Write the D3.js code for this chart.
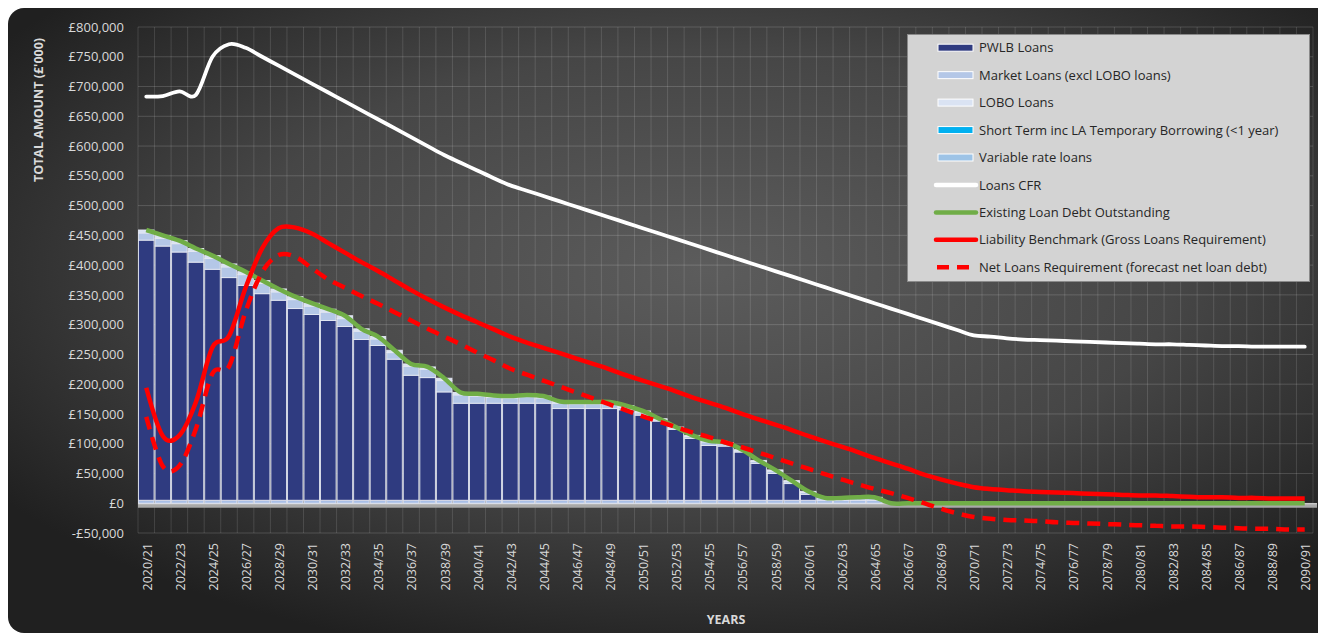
<!DOCTYPE html>
<html>
<head>
<meta charset="utf-8">
<script src="https://cdn.jsdelivr.net/npm/d3@7"></script>
<style>
  body { margin: 0; background: #ffffff; }
  svg { display: block; font-family: "Open Sans", "DejaVu Sans", sans-serif; }
</style>
</head>
<body>
<svg id="chart" width="1318" height="635"></svg>
<script>
// ---- data (£'000) ----
const categories = [
  "2020/21","2021/22","2022/23","2023/24","2024/25","2025/26","2026/27","2027/28","2028/29","2029/30",
  "2030/31","2031/32","2032/33","2033/34","2034/35","2035/36","2036/37","2037/38","2038/39","2039/40",
  "2040/41","2041/42","2042/43","2043/44","2044/45","2045/46","2046/47","2047/48","2048/49","2049/50",
  "2050/51","2051/52","2052/53","2053/54","2054/55","2055/56","2056/57","2057/58","2058/59","2059/60",
  "2060/61","2061/62","2062/63","2063/64","2064/65","2065/66","2066/67","2067/68","2068/69","2069/70",
  "2070/71","2071/72","2072/73","2073/74","2074/75","2075/76","2076/77","2077/78","2078/79","2079/80",
  "2080/81","2081/82","2082/83","2083/84","2084/85","2085/86","2086/87","2087/88","2088/89","2089/90",
  "2090/91"
];

const yTicks = [-50000, 0, 50000, 100000, 150000, 200000, 250000, 300000, 350000, 400000,
  450000, 500000, 550000, 600000, 650000, 700000, 750000, 800000];

const pwlbLoans = [
  437000,427000,417000,400000,388000,374000,361000,347000,336000,322000,
  312000,302000,292000,270000,260000,237000,210000,206000,182000,163000,
  163000,163000,163000,163000,163000,154000,154000,154000,154000,152000,
  143000,133000,119000,104000,92000,91000,81000,62000,45000,28000,
  10000,0,0,0,0,0,0,0,0,0,
  0,0,0,0,0,0,0,0,0,0,
  0,0,0,0,0,0,0,0,0,0,
  0
];

const marketLoans = [
  12000,13000,14000,18000,18000,18000,18000,17000,14000,15000,
  14000,14000,13000,14000,11000,11000,15000,14000,19000,14000,
  12000,10000,9000,11000,9000,9000,8000,8000,8000,4000,
  4000,2000,2000,3000,6000,4000,2000,3000,4000,3000,
  3000,4000,4000,5000,5000,0,0,0,0,0,
  0,0,0,0,0,0,0,0,0,0,
  0,0,0,0,0,0,0,0,0,0,
  0
];

const loboLoans = [
  5000,5000,5000,5000,5000,5000,5000,5000,5000,5000,
  5000,5000,5000,4000,4000,4000,4000,4000,4000,4000,
  4000,3000,3000,3000,3000,3000,3000,3000,3000,3000,
  3000,2000,2000,2000,2000,2000,2000,2000,2000,2000,
  2000,0,0,0,0,0,0,0,0,0,
  0,0,0,0,0,0,0,0,0,0,
  0,0,0,0,0,0,0,0,0,0,
  0
];

const shortTermLoans = [
  0,0,0,0,0,0,0,0,0,0, 0,0,0,0,0,0,0,0,0,0, 0,0,0,0,0,0,0,0,0,0,
  0,0,0,0,0,0,0,0,0,0, 0,0,0,0,0,0,0,0,0,0, 0,0,0,0,0,0,0,0,0,0,
  0,0,0,0,0,0,0,0,0,0, 0
];

const variableRateLoans = [
  5000,5000,5000,5000,5000,5000,5000,5000,5000,5000,
  5000,5000,5000,5000,5000,5000,5000,5000,5000,5000,
  5000,5000,5000,5000,5000,5000,5000,5000,5000,5000,
  5000,5000,5000,5000,5000,5000,5000,5000,5000,5000,
  5000,5000,5000,5000,5000,0,0,0,0,0,
  0,0,0,0,0,0,0,0,0,0,
  0,0,0,0,0,0,0,0,0,0,
  0
];

const loansCFR = [
  683000,684000,692000,686000,750000,771000,765000,750000,735000,720000,
  705000,690000,675000,660000,645000,630000,615000,600000,585000,572000,
  559000,546000,534000,525000,516000,507000,498000,489000,480000,471000,
  462000,453000,444000,435000,426000,417000,408000,399000,390000,381000,
  372000,363000,354000,345000,336000,327000,318000,309000,300000,291000,
  282000,280000,277000,275000,274000,273000,272000,271000,270000,269000,
  268000,267000,267000,266000,265000,264000,264000,263000,263000,263000,
  263000
];

const existingDebt = [
  459000,450000,441000,428000,416000,402000,389000,374000,360000,347000,
  336000,326000,315000,293000,280000,257000,234000,229000,210000,186000,
  184000,181000,180000,182000,180000,171000,170000,170000,170000,164000,
  155000,142000,128000,114000,105000,102000,90000,72000,56000,38000,
  20000,9000,9000,10000,10000,0,0,0,0,0,
  0,0,0,0,0,0,0,0,0,0,
  0,0,0,0,0,0,0,0,0,0,
  0
];

const liabilityBenchmark = [
  194000,113000,114000,170000,262000,281000,362000,428000,462000,463000,
  453000,437000,421000,405000,390000,374000,358000,343000,329000,316000,
  304000,292000,280000,270000,261000,252000,243000,234000,225000,215000,
  206000,197000,188000,178000,169000,160000,150000,141000,132000,123000,
  113000,104000,95000,86000,76000,67000,58000,48000,40000,33000,
  27000,24000,22000,20000,19000,18000,17000,16000,15000,14000,
  13000,13000,12000,11000,10000,10000,9000,9000,8000,8000,
  8000
];

const netLoansRequirement = [
  145000,62000,63000,125000,218000,230000,322000,388000,417000,414000,
  395000,376000,362000,348000,335000,321000,307000,293000,280000,267000,
  253000,240000,226000,216000,206000,196000,186000,176000,166000,156000,
  146000,137000,128000,119000,111000,102000,94000,85000,76000,67000,
  58000,49000,40000,32000,24000,17000,9000,0,-9000,-17000,
  -23000,-26000,-28000,-29000,-30000,-32000,-33000,-34000,-35000,-36000,
  -37000,-38000,-39000,-39000,-40000,-41000,-42000,-43000,-43000,-44000,
  -44000
];

// ---- layout ----
const plot = { left: 138, right: 1313, top: 27, bottom: 533 };

const svg = d3.select("#chart");
const defs = svg.append("defs");

const bg = defs.append("radialGradient")
  .attr("id", "bgGrad")
  .attr("cx", "52%").attr("cy", "42%").attr("r", "64%");
bg.append("stop").attr("offset", "0%").attr("stop-color", "#5c5c5c");
bg.append("stop").attr("offset", "55%").attr("stop-color", "#464646");
bg.append("stop").attr("offset", "100%").attr("stop-color", "#202020");

svg.append("rect")
  .attr("x", 8).attr("y", 8)
  .attr("width", 1340).attr("height", 625)
  .attr("rx", 16).attr("ry", 16)
  .attr("fill", "url(#bgGrad)");

// ---- scales ----
const x = d3.scaleBand().domain(categories).range([plot.left, plot.right]).padding(0);
const y = d3.scaleLinear().domain([-50000, 800000]).range([plot.bottom, plot.top]);
const cx = d => x(d) + x.bandwidth() / 2;

// ---- gridlines ----
const grid = svg.append("g").attr("class", "grid");
grid.selectAll("line.h").data(yTicks).join("line")
  .attr("class", "h")
  .attr("x1", plot.left).attr("x2", plot.right)
  .attr("y1", d => y(d)).attr("y2", d => y(d))
  .attr("stroke", "rgba(255,255,255,0.16)").attr("stroke-width", 1);
const boundaries = categories.map(c => x(c)).concat([plot.right]);
grid.selectAll("line.v").data(boundaries).join("line")
  .attr("class", "v")
  .attr("x1", d => d).attr("x2", d => d)
  .attr("y1", plot.top).attr("y2", plot.bottom)
  .attr("stroke", "rgba(255,255,255,0.13)").attr("stroke-width", 1);

// ---- y axis ----
const fmt = d3.format(",");
const yAxis = d3.axisLeft(y).tickValues(yTicks).tickSize(0).tickPadding(0)
  .tickFormat(v => (v < 0 ? "-£" + fmt(-v) : "£" + fmt(v)));
const yg = svg.append("g").attr("transform", "translate(124,0)").call(yAxis);
yg.select(".domain").remove();
yg.selectAll("text")
  .attr("fill", "#d9d9d9").attr("font-size", "13px")
  .attr("font-family", "'Open Sans', sans-serif");

svg.append("text")
  .attr("transform", "translate(39,110) rotate(-90)")
  .attr("text-anchor", "middle")
  .attr("dy", "0.35em")
  .attr("fill", "#d9d9d9")
  .attr("font-size", "12.5px").attr("font-weight", "bold")
  .text("TOTAL AMOUNT (£'000)");

// ---- x axis ----
const xAxis = d3.axisBottom(x)
  .tickValues(categories.filter((c, i) => i % 2 === 0))
  .tickSize(0).tickPadding(0);
const xg = svg.append("g").attr("transform", `translate(1,${plot.bottom + 10})`).call(xAxis);
xg.select(".domain").remove();
xg.selectAll("text")
  .attr("fill", "#d9d9d9").attr("font-size", "12.5px")
  .attr("font-family", "'Open Sans', sans-serif")
  .attr("text-anchor", "end")
  .attr("dy", "0.35em")
  .attr("transform", "rotate(-90)")
  .attr("x", 0).attr("y", 0);

svg.append("text")
  .attr("x", 726).attr("y", 624)
  .attr("text-anchor", "middle")
  .attr("fill", "#d9d9d9")
  .attr("font-size", "12.5px").attr("font-weight", "bold")
  .text("YEARS");

// ---- floor at zero ----
svg.append("rect")
  .attr("x", plot.left).attr("y", y(0))
  .attr("width", plot.right - plot.left + 4).attr("height", 4.5)
  .attr("fill", "#a9a9a9");
svg.append("line")
  .attr("x1", plot.left).attr("x2", plot.right + 4)
  .attr("y1", y(0) + 0.5).attr("y2", y(0) + 0.5)
  .attr("stroke", "#dcdcdc").attr("stroke-width", 1);

// ---- stacked bars ----
const rows = categories.map((c, i) => ({
  cat: c,
  variable: variableRateLoans[i],
  pwlb: pwlbLoans[i],
  market: marketLoans[i],
  lobo: loboLoans[i],
  shortTerm: shortTermLoans[i]
}));
const keys = ["variable", "pwlb", "market", "lobo", "shortTerm"];
const colors = {
  pwlb: "#2f3b80",
  market: "#b4c7e7",
  lobo: "#dae3f3",
  shortTerm: "#00b0f0",
  variable: "#a9bfe6"
};
const stacked = d3.stack().keys(keys)(rows);
const barG = svg.append("g");
stacked.forEach(layer => {
  barG.append("g").attr("fill", colors[layer.key])
    .selectAll("rect")
    .data(layer.filter(d => d[1] - d[0] > 0))
    .join("rect")
    .attr("x", d => x(d.data.cat) + 0.5)
    .attr("width", x.bandwidth() - 1)
    .attr("y", d => y(d[1]))
    .attr("height", d => y(d[0]) - y(d[1]))
    .attr("stroke", "#e4e8f4")
    .attr("stroke-width", 0.9);
});

// ---- lines ----
const lineGen = vals => d3.line()
  .x((d, i) => cx(categories[i]))
  .y(d => y(d))
  .curve(d3.curveCardinal.tension(0))(vals);

svg.append("path").attr("d", lineGen(existingDebt))
  .attr("fill", "none").attr("stroke", "#70ad47").attr("stroke-width", 4.5)
  .attr("stroke-linejoin", "round");
svg.append("path").attr("d", lineGen(liabilityBenchmark))
  .attr("fill", "none").attr("stroke", "#ff0000").attr("stroke-width", 4.5)
  .attr("stroke-linejoin", "round");
svg.append("path").attr("d", lineGen(netLoansRequirement))
  .attr("fill", "none").attr("stroke", "#ff0000").attr("stroke-width", 4.5)
  .attr("stroke-dasharray", "13,8");
svg.append("path").attr("d", lineGen(loansCFR))
  .attr("fill", "none").attr("stroke", "#ffffff").attr("stroke-width", 3.8)
  .attr("stroke-linejoin", "round").attr("stroke-linecap", "round");

// ---- legend ----
const legendItems = [
  { label: "PWLB Loans", type: "bar", color: colors.pwlb },
  { label: "Market Loans (excl LOBO loans)", type: "bar", color: colors.market },
  { label: "LOBO Loans", type: "bar", color: colors.lobo },
  { label: "Short Term inc LA Temporary Borrowing (<1 year)", type: "bar", color: colors.shortTerm },
  { label: "Variable rate loans", type: "bar", color: "#9dc3e6" },
  { label: "Loans CFR", type: "line", color: "#ffffff" },
  { label: "Existing Loan Debt Outstanding", type: "line", color: "#70ad47" },
  { label: "Liability Benchmark (Gross Loans Requirement)", type: "line", color: "#ff0000" },
  { label: "Net Loans Requirement (forecast net loan debt)", type: "dash", color: "#ff0000" }
];
const lg = svg.append("g");
lg.append("rect")
  .attr("x", 907.5).attr("y", 34.5).attr("width", 402).attr("height", 247)
  .attr("fill", "#d3d3d3").attr("stroke", "#8a8a8a").attr("stroke-width", 1);
const item = lg.selectAll("g.item").data(legendItems).join("g")
  .attr("class", "item")
  .attr("transform", (d, i) => `translate(0,${47.7 + i * 27.45})`);
item.filter(d => d.type === "bar").append("rect")
  .attr("x", 938).attr("y", -3.5).attr("width", 35).attr("height", 7)
  .attr("fill", d => d.color).attr("stroke", "#ffffff").attr("stroke-width", 1);
item.filter(d => d.type === "line").append("line")
  .attr("x1", 936).attr("x2", 976).attr("y1", 0).attr("y2", 0)
  .attr("stroke", d => d.color).attr("stroke-width", 4.5).attr("stroke-linecap", "round");
item.filter(d => d.type === "dash").append("line")
  .attr("x1", 937).attr("x2", 976).attr("y1", 0).attr("y2", 0)
  .attr("stroke", d => d.color).attr("stroke-width", 4.5)
  .attr("stroke-dasharray", "12,8");
item.append("text")
  .attr("x", 979).attr("y", 0).attr("dy", "0.35em")
  .attr("fill", "#262626").attr("font-size", "13px")
  .text(d => d.label);
</script>
</body>
</html>
